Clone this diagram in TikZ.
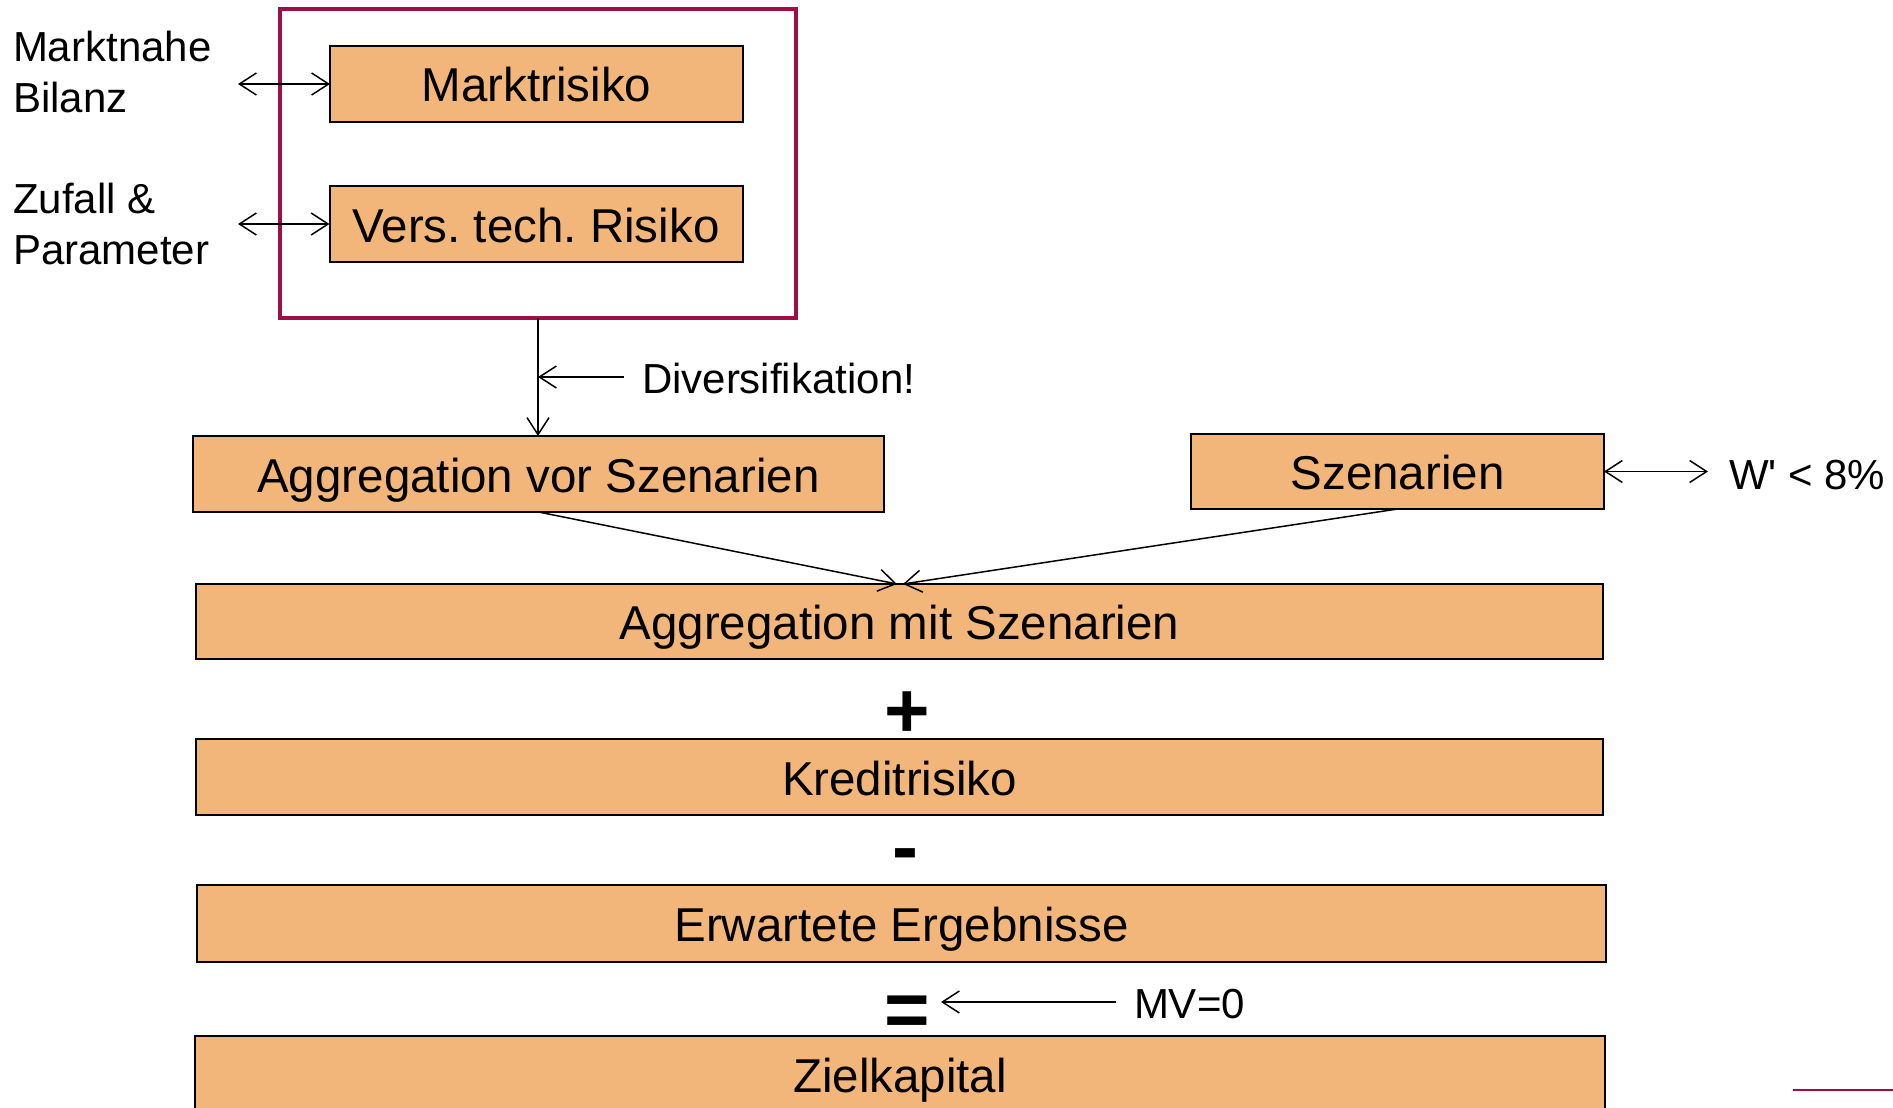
\documentclass[tikz,border=0pt]{standalone}
\usepackage{fontspec}
\setmainfont{Liberation Sans}
\newfontfamily\af{Liberation Sans}
\usetikzlibrary{arrows.meta,calc}
\definecolor{boxfill}{RGB}{242,181,122}
\definecolor{berry}{RGB}{160,14,70}
\frenchspacing
\begin{document}
\begin{tikzpicture}[x=1pt,y=-1pt,
  box/.style={draw=black, line width=2pt, fill=boxfill, inner sep=0pt, outer sep=0pt,
    minimum height=76pt, text height=36pt, text depth=0pt,
    font=\af\fontsize{47.5}{57}\selectfont},
  lbl/.style={inner sep=0pt, outer sep=0pt, anchor=base west, font=\af\fontsize{42}{50}\selectfont},
  conn/.style={line width=1.5pt, -{Straight Barb[length=17pt,width=22pt]}},
  dconn/.style={line width=1.5pt, {Straight Barb[length=17pt,width=22pt]}-{Straight Barb[length=17pt,width=22pt]}},
  sign/.style={inner sep=0pt, outer sep=0pt, anchor=base, font=\af\bfseries\fontsize{78}{80}\selectfont}
]
\useasboundingbox (0,0) rectangle (1893,1108);
\clip (0,0) rectangle (1893,1108);

% frame
\node[draw=berry, line width=4pt, minimum width=516pt, minimum height=309pt, inner sep=0pt, outer sep=0pt] (frame) at (538,163.5) {};

% boxes
\node[box, minimum width=413pt] (mr) at (536.5,84) {Marktrisiko};
\node[box, minimum width=413pt] (vt) at (536,224) {Vers. tech. Risiko};
\node[box, minimum width=691pt] (avs) at (538.5,474) {Aggregation vor Szenarien};
\node[box, minimum width=413pt, minimum height=75pt] (sz) at (1397.5,471.5) {Szenarien};
\node[box, minimum width=1407pt, minimum height=75pt] (ams) at (899.5,621.5) {Aggregation mit Szenarien};
\node[box, minimum width=1407pt] (kr) at (899.5,777) {Kreditrisiko};
\node[box, minimum width=1409pt, minimum height=77pt] (ee) at (901.5,923.5) {Erwartete Ergebnisse};
\node[box, minimum width=1410pt] (zk) at (900,1074) {Zielkapital};

% labels
\node[lbl] (mn1) at (13,62) {Marktnahe};
\node[lbl] (mn2) at (13,112) {Bilanz};
\node[lbl] (zp1) at (13,213) {Zufall \&};
\node[lbl] (zp2) at (13,264) {Parameter};
\node[lbl] (div) at (642,393) {Diversifikation!};
\node[lbl] (wp) at (1729,489) {W' < 8\%};
\node[lbl] (mv) at (1134,1018) {MV=0};

% signs
\node[sign] (plus) at (907.5,737) {+};
\node[sign] (minus) at (905.5,873) {-};
\node[sign] (eq) at (907.5,1036) {=};

% coordinates
\coordinate (c1) at (238,84);
\coordinate (c2) at (238,224);
\coordinate (c3) at (624,377);
\coordinate (c4) at (1708,471.5);
\coordinate (t1) at (897,584);
\coordinate (t2) at (903,584);
\coordinate (c5) at (1116,1002);
\coordinate (c6) at (941,1002);

% connectors
\draw[dconn] (c1) -- (mr.west);
\draw[dconn] (c2) -- (vt.west);
\draw[conn] (frame.south) -- (frame.south |- avs.north);
\draw[conn] (c3) -- (c3 -| frame.south);
\draw[dconn] (sz.east) -- (c4);
\draw[conn] (avs.south) -- (t1);
\draw[conn] (sz.south) -- (t2);
\draw[conn] (c5) -- (c6);

% decorative line
\draw[berry, line width=1.5pt] (1793,1090) -- (1893,1090);
\end{tikzpicture}
\end{document}
